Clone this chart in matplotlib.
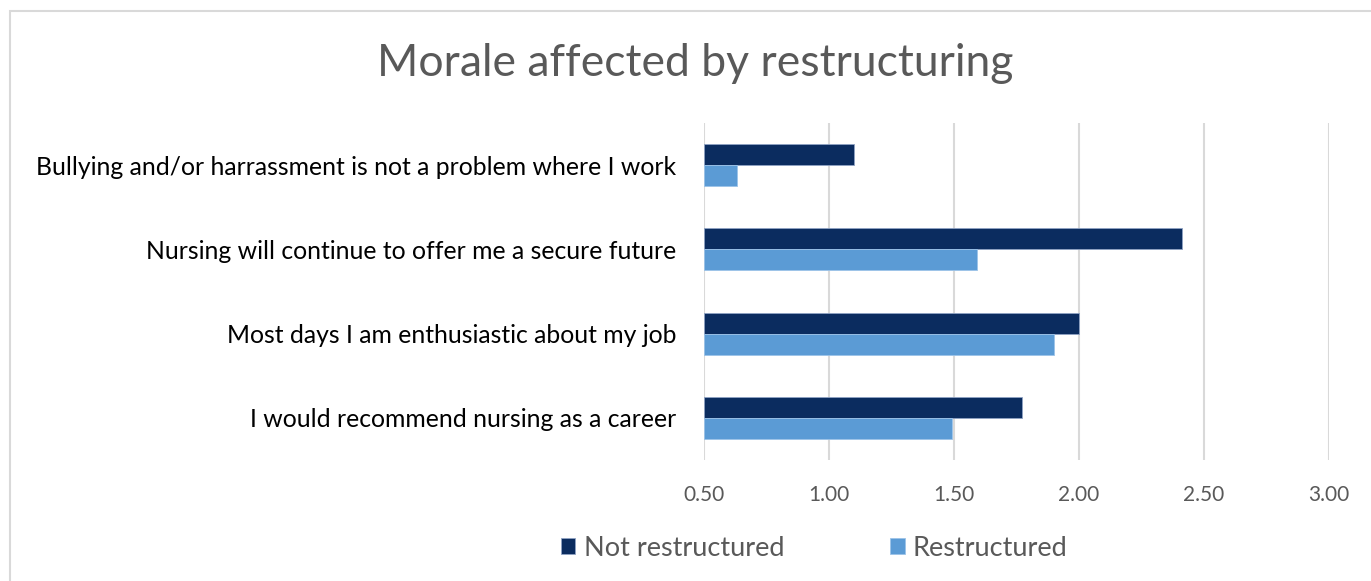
import matplotlib
matplotlib.use("Agg")
import matplotlib.pyplot as plt
import numpy as np
from matplotlib.patches import Rectangle

categories = [
    "I would recommend nursing as a career",
    "Most days I am enthusiastic about my job",
    "Nursing will continue to offer me a secure future",
    "Bullying and/or harrassment is not a problem where I work",
]
not_restructured = [1.77, 2.00, 2.41, 1.10]
restructured = [1.49, 1.90, 1.59, 0.63]
xticks = [0.5, 1.0, 1.5, 2.0, 2.5, 3.0]
series_names = ["Not restructured", "Restructured"]

plt.rcParams['font.family'] = ['Lato', 'DejaVu Sans']

fig = plt.figure(figsize=(13.71, 5.81), dpi=100)
fig.patches.append(Rectangle((10/1371, -0.1), 1.2, 1 - 11/581 + 0.1, transform=fig.transFigure,
                             fill=False, edgecolor='#d9d9d9', linewidth=1.5))

ax = fig.add_axes([704/1371, 1 - 460/581, (1329-704)/1371, (460-123)/581])
y = np.arange(len(categories))
h = 0.25
base = 0.5
nr_vals = np.array(not_restructured) - base
r_vals = np.array(restructured) - base
ax.barh(y + h/2, nr_vals, height=h, left=base, color='#0b2c5f', edgecolor='#8fa3c4', linewidth=0.6,
        label=series_names[0], zorder=3)
ax.barh(y - h/2, r_vals, height=h, left=base, color='#5b9bd5', edgecolor='#9cc3e8', linewidth=0.6,
        label=series_names[1], zorder=3)

ax.set_xlim(0.5, 3.0)
ax.set_ylim(-0.5, len(categories) - 0.5)
ax.set_xticks(xticks)
ax.set_xticklabels([f"{v:.2f}" for v in xticks], fontsize=15, color='#595959')
ax.set_yticks(y)
ax.set_yticklabels(categories, fontsize=17.8, color='#000000')
ax.tick_params(axis='both', length=0)
ax.tick_params(axis='x', pad=18)
ax.tick_params(axis='y', pad=20)
ax.grid(axis='x', color='#d9d9d9', linewidth=1.5, zorder=0)
for s in ax.spines.values():
    s.set_visible(False)

fig.text(695/1371, 1 - 63/581, "Morale affected by restructuring", ha='center', va='center',
         fontsize=32, color='#595959')

leg = fig.legend(loc='center', bbox_to_anchor=(814/1371, 1 - 548/581), ncol=2, frameon=False,
                 fontsize=19.5, handlelength=0.55, handleheight=0.55, handletextpad=0.3,
                 columnspacing=3.9)
for t in leg.get_texts():
    t.set_color('#595959')

fig.savefig("out.png", dpi=100)
